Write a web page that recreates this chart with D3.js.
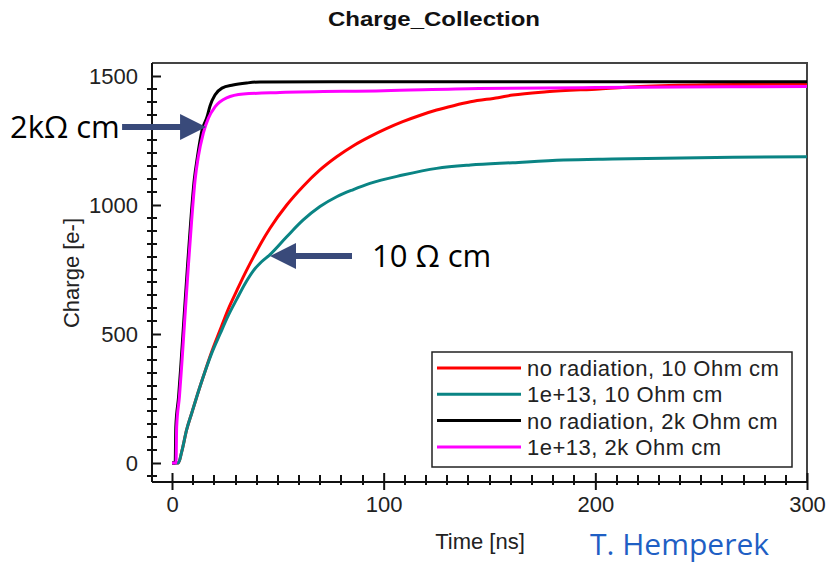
<!DOCTYPE html>
<html>
<head>
<meta charset="utf-8">
<script src="https://cdn.jsdelivr.net/npm/d3@7"></script>
<style>
  body { margin: 0; background: #fff; }
  svg { display: block; }
</style>
</head>
<body>
<svg id="chart" width="826" height="563"></svg>
<script>
// Values (time in ns, charge in e-)
const timeRed   = [0, 3, 4.6, 6.9, 9.3, 11.7, 14.8, 18.5, 22.7, 26.5, 30.6, 34.5, 38.4, 42.3, 46.3, 54.2, 62, 69.9, 77.8, 85.7, 93.5, 101, 109, 117, 125, 133, 141, 154, 161, 177, 202, 221, 253, 300];
const chargeRed = [0, 0, 44, 128, 193, 257, 335, 425, 515, 595, 668, 735, 797, 856, 910, 1000, 1073, 1136, 1187, 1230, 1265, 1295, 1323, 1347, 1368, 1385, 1400, 1416, 1426, 1439, 1450, 1459, 1466, 1469];

const timeTeal   = [0, 3, 4.6, 6.9, 9.3, 11.7, 14.8, 18.5, 22.7, 26.5, 30.6, 34.5, 38.4, 42.3, 46.3, 54.2, 62, 69.9, 77.8, 85.7, 93.5, 109, 125, 141, 161, 185, 208, 265, 300];
const chargeTeal = [0, 0, 44, 128, 193, 257, 335, 420, 500, 570, 635, 695, 745, 780, 808, 877, 942, 994, 1032, 1060, 1084, 1116, 1142, 1155, 1164, 1174, 1178, 1185, 1187];

const timeBlack   = [0, 1.5, 1.8, 3.1, 4.2, 5.7, 7.3, 8.9, 10.5, 12.0, 14.2, 16.5, 18, 20.3, 23.6, 28.8, 35.4, 41.6, 100, 200, 300];
const chargeBlack = [0, 0, 140, 256, 380, 566, 760, 942, 1097, 1186, 1290, 1340, 1385, 1426, 1453, 1465, 1473, 1477, 1478, 1478, 1478];

const timeMagenta   = [0, 1.9, 2.2, 3.5, 4.6, 6.1, 7.7, 9.3, 10.9, 12.4, 14.8, 17.2, 20.3, 25.8, 33.7, 51, 100, 145, 200, 240, 300];
const chargeMagenta = [0, 0, 140, 256, 380, 566, 760, 942, 1097, 1186, 1279, 1337, 1380, 1415, 1430, 1436, 1443, 1452, 1455, 1457, 1459];

const seriesLabels = ["no radiation, 10 Ohm cm", "1e+13, 10 Ohm cm", "no radiation, 2k Ohm cm", "1e+13, 2k Ohm cm"];
const seriesColors = ["#ff0000", "#0a8484", "#000000", "#ff00ff"];

const xMajorTicks = [0, 100, 200, 300];
const yMajorTicks = [0, 500, 1000, 1500];
const xMinorTicks = [10, 20, 30, 40, 50, 60, 70, 80, 90, 110, 120, 130, 140, 150, 160, 170, 180, 190,
                     210, 220, 230, 240, 250, 260, 270, 280, 290];
const yMinorTicks = [-50, 50, 100, 150, 200, 250, 300, 350, 400, 450, 550, 600, 650, 700, 750, 800, 850, 900, 950,
                     1050, 1100, 1150, 1200, 1250, 1300, 1350, 1400, 1450];

// annotation arrows: tip in data space, label
const notes = [
  { t: 16.1, q: 1302, text: "2k\u03a9 cm", side: "left" },
  { t: 46.3, q: 802, text: "10 \u03a9 cm", side: "right" }
];

const series = [
  { time: timeRed, charge: chargeRed },
  { time: timeTeal, charge: chargeTeal },
  { time: timeBlack, charge: chargeBlack },
  { time: timeMagenta, charge: chargeMagenta }
].map((s, i) => ({
  label: seriesLabels[i],
  color: seriesColors[i],
  points: s.time.map((t, k) => [t, s.charge[k]])
}));

// frame of the plot area
const frame = { left: 152, top: 63, right: 807, bottom: 482 };

const svg = d3.select("#chart");
svg.append("rect").attr("width", 826).attr("height", 563).attr("fill", "#fff");

const x = d3.scaleLinear().domain([0, 300]).range([172, frame.right]);
const y = d3.scaleLinear().domain([0, 1500]).range([463, 76]);

const axisFont = "'Liberation Sans', Arial, sans-serif";
const textColor = "#222";

// Title
svg.append("text")
  .attr("x", 328).attr("y", 26)
  .attr("font-family", axisFont)
  .attr("font-weight", "bold")
  .attr("font-size", 21)
  .attr("textLength", 212)
  .attr("lengthAdjust", "spacingAndGlyphs")
  .attr("fill", "#111")
  .text("Charge_Collection");

// top and right border
svg.append("path")
  .attr("d", `M${frame.left},${frame.top}H${frame.right}V${frame.bottom}`)
  .attr("fill", "none")
  .attr("stroke", "#444")
  .attr("stroke-width", 2);

// minor ticks drawn as small filled rects
const minorG = svg.append("g").attr("class", "minor-ticks").attr("fill", "#111");
minorG.selectAll("rect.mx")
  .data(xMinorTicks)
  .join("rect")
  .attr("class", "mx")
  .attr("x", d => Math.round(x(d)) - 1)
  .attr("y", frame.bottom - 7)
  .attr("width", 2)
  .attr("height", 10);
minorG.selectAll("rect.my")
  .data(yMinorTicks)
  .join("rect")
  .attr("class", "my")
  .attr("x", frame.left - 5)
  .attr("y", d => Math.round(y(d)) - 1)
  .attr("width", 10)
  .attr("height", 2);

// X axis
const gx = svg.append("g")
  .attr("transform", `translate(0,${frame.bottom})`)
  .call(d3.axisBottom(x).tickValues(xMajorTicks).tickSize(8).tickPadding(6).tickSizeOuter(0));
gx.select(".domain").attr("d", `M${frame.left},0H${frame.right}`);
gx.selectAll(".tick line").attr("y1", -9);
gx.selectAll("text")
  .attr("font-family", axisFont)
  .attr("font-size", 22)
  .attr("fill", textColor);

// Y axis
const gy = svg.append("g")
  .attr("transform", `translate(${frame.left},0)`)
  .call(d3.axisLeft(y).tickValues(yMajorTicks).tickFormat(d3.format("d"))
    .tickSize(9).tickPadding(5).tickSizeOuter(0));
gy.select(".domain").attr("d", `M0,${frame.top}V${frame.bottom}`);
gy.selectAll(".tick line").attr("x2", 9);
gy.selectAll("text")
  .attr("font-family", axisFont)
  .attr("font-size", 22)
  .attr("fill", textColor);

svg.selectAll(".domain, .tick line")
  .attr("stroke", "#111")
  .attr("stroke-width", 2);

// Axis titles
svg.append("text")
  .attr("transform", "translate(79,273) rotate(-90)")
  .attr("text-anchor", "middle")
  .attr("font-family", axisFont)
  .attr("font-size", 22)
  .attr("fill", textColor)
  .text("Charge [e-]");

svg.append("text")
  .attr("x", 480).attr("y", 549)
  .attr("text-anchor", "middle")
  .attr("font-family", axisFont)
  .attr("font-size", 22)
  .attr("fill", textColor)
  .text("Time [ns]");

// Curves
const line = d3.line()
  .x(d => x(d[0]))
  .y(d => y(d[1]))
  .curve(d3.curveMonotoneX);

svg.append("g")
  .selectAll("path")
  .data(series)
  .join("path")
  .attr("d", d => line(d.points))
  .attr("fill", "none")
  .attr("stroke", d => d.color)
  .attr("stroke-width", 3)
  .attr("stroke-linejoin", "round");

// Legend
const legend = svg.append("g").attr("transform", "translate(432,352)");
legend.append("rect")
  .attr("width", 360).attr("height", 115)
  .attr("fill", "#fff")
  .attr("stroke", "#222")
  .attr("stroke-width", 1.5);

const rows = legend.selectAll("g.row")
  .data(series)
  .join("g")
  .attr("class", "row")
  .attr("transform", (d, i) => `translate(0,${16 + i * 26.3})`);
rows.append("line")
  .attr("x1", 5).attr("x2", 89)
  .attr("stroke", d => d.color)
  .attr("stroke-width", 3);
rows.append("text")
  .attr("x", 95).attr("y", 8)
  .attr("font-family", axisFont)
  .attr("font-size", 22)
  .attr("letter-spacing", 0.5)
  .attr("fill", textColor)
  .text(d => d.label);

// Annotations with arrows
const arrowColor = "#394a7a";
const noteFont = "'Open Sans', sans-serif";
notes.forEach(n => {
  const tx = x(n.t), ty = y(n.q);
  const g = svg.append("g");
  const dir = n.side === "left" ? -1 : 1;
  const headLen = 26, headHalf = 13;
  const lineLen = n.side === "left" ? 84 : 82;
  g.append("line")
    .attr("x1", tx + dir * (headLen - 2)).attr("y1", ty)
    .attr("x2", tx + dir * lineLen).attr("y2", ty)
    .attr("stroke", arrowColor)
    .attr("stroke-width", 6);
  g.append("polygon")
    .attr("points", [
      [tx, ty],
      [tx + dir * headLen, ty - headHalf],
      [tx + dir * headLen, ty + headHalf]
    ].map(p => p.join(",")).join(" "))
    .attr("fill", arrowColor);
  g.append("text")
    .attr("x", n.side === "left" ? 10 : tx + 102)
    .attr("y", ty)
    .attr("dy", "0.36em")
    .attr("font-family", noteFont)
    .attr("font-size", 31)
    .attr("fill", "#000")
    .text(n.text);
});

// Credit
svg.append("text")
  .attr("x", 590).attr("y", 555)
  .attr("font-family", noteFont)
  .attr("font-size", 30)
  .attr("fill", "#1f5fc4")
  .text("T. Hemperek");
</script>
</body>
</html>
